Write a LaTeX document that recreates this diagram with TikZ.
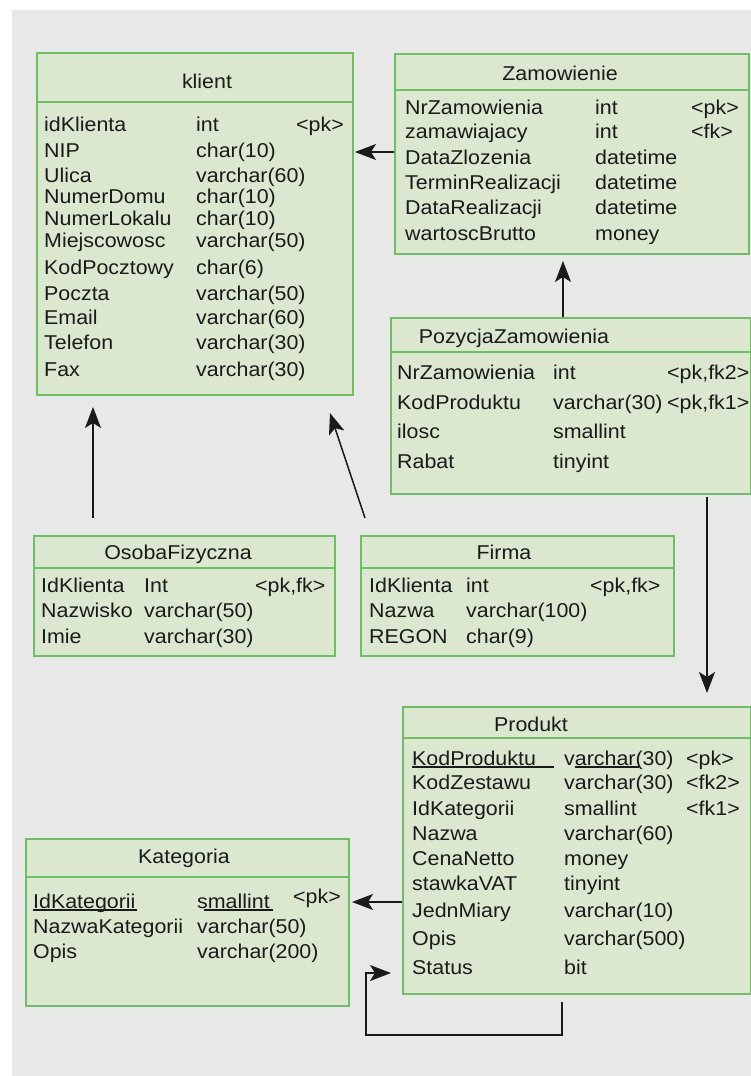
\documentclass[tikz,border=0pt]{standalone}
\usepackage{fontspec}
\setmainfont{Liberation Sans}[FakeStretch=1.07]
\usetikzlibrary{arrows.meta}

\definecolor{pagebg}{HTML}{E8E8E8}
\definecolor{boxfill}{HTML}{DCE7D0}
\definecolor{boxline}{HTML}{6CC062}
\definecolor{ink}{HTML}{1A1A1A}

\tikzset{
  tbl/.style={draw=boxline, fill=boxfill, line width=2pt, inner sep=0pt, anchor=north west},
  sepline/.style={draw=boxline, line width=2pt},
  txt/.style={anchor=base west, inner sep=0pt, text=ink, font=\fontsize{20}{24}\selectfont},
  ttl/.style={anchor=base, inner sep=0pt, text=ink, font=\fontsize{20}{24}\selectfont},
  arr/.style={draw=ink, line width=1.5pt, -{Stealth[length=21pt,width=16pt,inset=5pt]}},
  uline/.style={draw=ink, line width=1.1pt},
}

\begin{document}
\begin{tikzpicture}[x=1pt,y=-1pt]
  % page and grey canvas
  \useasboundingbox (0,0) rectangle (751,1076);
  \fill[pagebg] (12,10) rectangle (751,1076);

  % ---------------- klient ----------------
  \node[tbl, minimum width=316pt, minimum height=342pt] (klient) at (36,52) {};
  \draw[sepline] (klient.west |- 0,102) -- (klient.east |- 0,102);
  \node[ttl] (klientT) at (207,88) {klient};
  \foreach \n/\t/\k/\y [count=\i] in {
    idKlienta/int/{<pk>}/131, NIP/char(10)//157, Ulica/varchar(60)//182,
    NumerDomu/char(10)//203, NumerLokalu/char(10)//225, Miejscowosc/varchar(50)//247,
    KodPocztowy/char(6)//274, Poczta/varchar(50)//300, Email/varchar(60)//324,
    Telefon/varchar(30)//349, Fax/varchar(30)//376}{
    \node[txt] (kn\i) at (44,\y) {\n};
    \node[txt] (kt\i) at (196,\y) {\t};
    \node[txt] (kk\i) at (296,\y) {\k};
  }

  % ---------------- Zamowienie ----------------
  \node[tbl, minimum width=354pt, minimum height=200pt] (zam) at (394,53) {};
  \draw[sepline] (zam.west |- 0,90) -- (zam.east |- 0,90);
  \node[ttl] (zamT) at (560,80) {Zamowienie};
  \foreach \n/\t/\k/\y [count=\i] in {
    NrZamowienia/int/{<pk>}/114, zamawiajacy/int/{<fk>}/138,
    DataZlozenia/datetime//164, TerminRealizacji/datetime//189,
    DataRealizacji/datetime//214, wartoscBrutto/money//240}{
    \node[txt] (zn\i) at (405,\y) {\n};
    \node[txt] (zt\i) at (595,\y) {\t};
    \node[txt] (zk\i) at (691,\y) {\k};
  }

  % ---------------- PozycjaZamowienia ----------------
  \node[tbl, minimum width=360pt, minimum height=176pt] (poz) at (390,317) {};
  \draw[sepline] (poz.west |- 0,352) -- (poz.east |- 0,352);
  \node[ttl] (pozT) at (514,343) {PozycjaZamowienia};
  \foreach \n/\t/\k/\y [count=\i] in {
    NrZamowienia/int/{<pk,fk2>}/379, KodProduktu/varchar(30)/{<pk,fk1>}/409,
    ilosc/smallint//438, Rabat/tinyint//468}{
    \node[txt] (pn\i) at (397,\y) {\n};
    \node[txt] (pt\i) at (553,\y) {\t};
    \node[txt] (pk\i) at (667,\y) {\k};
  }

  % ---------------- OsobaFizyczna ----------------
  \node[tbl, minimum width=301pt, minimum height=120pt] (osoba) at (33,535) {};
  \draw[sepline] (osoba.west |- 0,568) -- (osoba.east |- 0,568);
  \node[ttl] (osobaT) at (178,559) {OsobaFizyczna};
  \foreach \n/\t/\k/\y [count=\i] in {
    IdKlienta/Int/{<pk,fk>}/592, Nazwisko/varchar(50)//617, Imie/varchar(30)//643}{
    \node[txt] (on\i) at (41,\y) {\n};
    \node[txt] (ot\i) at (144,\y) {\t};
    \node[txt] (ok\i) at (255,\y) {\k};
  }

  % ---------------- Firma ----------------
  \node[tbl, minimum width=313pt, minimum height=120pt] (firma) at (360,535) {};
  \draw[sepline] (firma.west |- 0,568) -- (firma.east |- 0,568);
  \node[ttl] (firmaT) at (504,559) {Firma};
  \foreach \n/\t/\k/\y [count=\i] in {
    IdKlienta/int/{<pk,fk>}/592, Nazwa/varchar(100)//617, REGON/char(9)//643}{
    \node[txt] (fn\i) at (369,\y) {\n};
    \node[txt] (ft\i) at (466,\y) {\t};
    \node[txt] (fk\i) at (590,\y) {\k};
  }

  % ---------------- Produkt ----------------
  \node[tbl, minimum width=348pt, minimum height=287pt] (prod) at (402,706) {};
  \draw[sepline] (prod.west |- 0,738) -- (prod.east |- 0,738);
  \node[ttl] (prodT) at (531,731) {Produkt};
  \foreach \n/\t/\k/\y [count=\i] in {
    KodProduktu/varchar(30)/{<pk>}/765, KodZestawu/varchar(30)/{<fk2>}/789,
    IdKategorii/smallint/{<fk1>}/815, Nazwa/varchar(60)//840,
    CenaNetto/money//865, stawkaVAT/tinyint//890, JednMiary/varchar(10)//917,
    Opis/varchar(500)//945, Status/bit//974}{
    \node[txt] (rn\i) at (412,\y) {\n};
    \node[txt] (rt\i) at (564,\y) {\t};
    \node[txt] (rk\i) at (686,\y) {\k};
  }
  % key underlines
  \draw[uline] (412,767) -- (554,767);
  \draw[uline] (575,767) -- (639,767);

  % ---------------- Kategoria ----------------
  \node[tbl, minimum width=323pt, minimum height=167pt] (kat) at (25,838) {};
  \draw[sepline] (kat.west |- 0,877) -- (kat.east |- 0,877);
  \node[ttl] (katT) at (184,863) {Kategoria};
  \foreach \n/\t/\y [count=\i] in {
    IdKategorii/smallint/908, NazwaKategorii/varchar(50)/933, Opis/varchar(200)/958}{
    \node[txt] (an\i) at (33,\y) {\n};
    \node[txt] (at\i) at (197,\y) {\t};
  }
  \node[txt] (ak1) at (293,903) {<pk>};
  \draw[uline] (33,910) -- (137,910);
  \draw[uline] (204,910) -- (273,910);

  % ---------------- relationships ----------------
  \coordinate (zamOut) at (zam.west |- 0,152);
  \coordinate (klientInZ) at (355,152);
  \draw[arr] (zamOut) -- (klientInZ);

  \coordinate (pozOut) at (563,317);
  \coordinate (zamIn) at (563,261);
  \draw[arr] (pozOut) -- (zamIn);

  \coordinate (osobaOut) at (93,518);
  \coordinate (klientInO) at (93,407);
  \draw[arr] (osobaOut) -- (klientInO);

  \coordinate (firmaOut) at (365,518);
  \coordinate (klientInF) at (330,413);
  \draw[arr] (firmaOut) -- (klientInF);

  \coordinate (pozDown) at (707,497);
  \coordinate (prodIn) at (707,693);
  \draw[arr] (pozDown) -- (prodIn);

  \coordinate (prodOut) at (prod.west |- 0,902);
  \coordinate (katIn) at (352,902);
  \draw[arr] (prodOut) -- (katIn);

  % Produkt self reference (KodZestawu)
  \coordinate (loopStart) at (562,1002);
  \coordinate (loopEnd) at (391,973);
  \draw[arr] (loopStart) -- (562,1035) -- (366,1035) -- (366,973) -- (loopEnd);
\end{tikzpicture}
\end{document}
